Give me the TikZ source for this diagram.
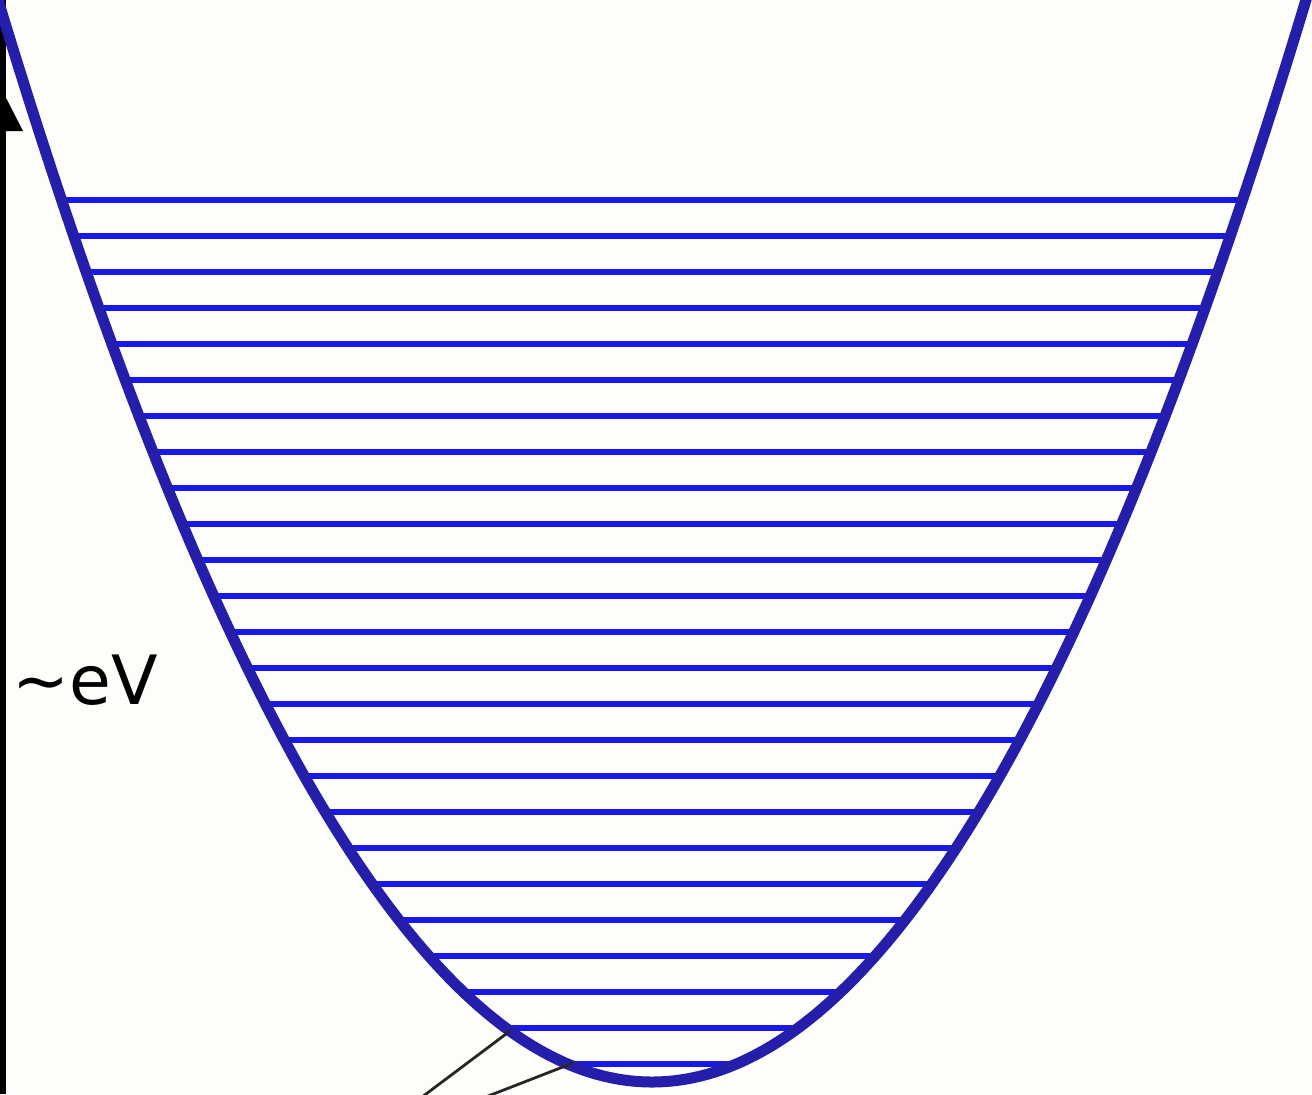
\documentclass[tikz,border=0pt]{standalone}
\usepackage{fontspec}
\setmainfont{DejaVu Sans}
\usetikzlibrary{arrows.meta,positioning}
\definecolor{bgpaper}{RGB}{253,253,249}
\definecolor{wellnavy}{RGB}{36,30,170}
\definecolor{levelblue}{RGB}{24,24,235}
\tikzset{
  wellcurve/.style={line width=5.5pt, wellnavy, line cap=round, line join=round},
  levelln/.style={line width=3.3pt, levelblue},
  axisln/.style={line width=4pt, black},
  pointerln/.style={line width=1.4pt, black!85},
}
% parabola of the well: depth K*(dx/100)^2 below the rim, vertex at (652,1082)
\newcommand{\wellk}{25.3}
\begin{document}
\begin{tikzpicture}[x=0.5pt, y=-0.5pt]
    % page, same proportions as the slide
    \fill[bgpaper] (0,0) rectangle (1312,1094);
    \useasboundingbox (0,0) rectangle (1312,1094);
    % energy axis, cut at the left edge
    \draw[axisln] (2,1094) -- (2,0);
    \fill[black] (-19,131) -- (2,90) -- (23,131) -- cycle;
    \node[font=\fontsize{34}{40}\selectfont, anchor=west, inner sep=0pt] (evlabel) at (12,680) {\symbol{"7E}eV};
    % levels, evenly spaced, clipped to the well
    \foreach \k in {0,...,24} {
      \pgfmathsetmacro{\yy}{200+36*\k}
      \pgfmathsetmacro{\hw}{100*sqrt((1082-\yy)/\wellk)}
      \draw[levelln] ({652-\hw},\yy) -- ({652+\hw},\yy);
    }
    % the well itself
    \draw[wellcurve] plot[domain=-655:655, samples=121, smooth]
      ({652+\x},{1082-\wellk*(\x/100)*(\x/100)});
    % the two lowest levels are pointed at
    \coordinate (lvlA) at (510,1031);
    \coordinate (lvlB) at (573,1063);
    \coordinate (tailA) at (418,1100);
    \coordinate (tailB) at (478,1100);
    \draw[pointerln] (tailA) -- (lvlA);
    \draw[pointerln] (tailB) -- (lvlB);
  \end{tikzpicture}
\end{document}
